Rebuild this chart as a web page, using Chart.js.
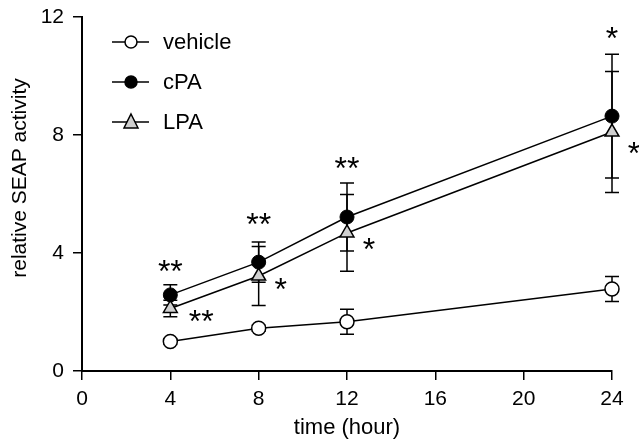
<!DOCTYPE html>
<html>
<head>
<meta charset="utf-8">
<script src="https://cdn.jsdelivr.net/npm/chart.js@4.4.1/dist/chart.umd.min.js"></script>
<style>
  body { margin: 0; background: #fff; }
</style>
</head>
<body>
<canvas id="chart" width="639" height="441"></canvas>
<script>
const hours = [4, 8, 12, 24];
const vehicle = [1.0, 1.45, 1.67, 2.78];
const vehicleErr = [0.1, 0.1, 0.42, 0.42];
const cpa = [2.58, 3.69, 5.22, 8.64];
const cpaErr = [0.34, 0.68, 1.15, 2.1];
const lpa = [2.12, 3.22, 4.68, 8.1];
const lpaErr = [0.28, 1.0, 1.3, 2.05];
const xTicks = [0, 4, 8, 12, 16, 20, 24];
const yTicks = [0, 4, 8, 12];

// significance marks: [x, y, text]
const starX = [4, 5.4, 8, 9.0, 12, 13.0, 24, 25.0];
const starY = [3.6, 1.9, 5.2, 3.0, 7.1, 4.35, 11.5, 7.6];
const starText = ['**', '**', '**', '*', '**', '*', '*', '*'];

const FONT = "Arial, 'Liberation Sans', sans-serif";

function toPoints(ys) {
  return hours.map((h, i) => ({ x: h, y: ys[i] }));
}

const errorBars = {
  id: 'errorBars',
  beforeDatasetsDraw(chart) {
    const ctx = chart.ctx;
    const xs = chart.scales.x, ys = chart.scales.y;
    const sets = [[vehicle, vehicleErr], [cpa, cpaErr], [lpa, lpaErr]];
    ctx.save();
    ctx.strokeStyle = '#000';
    ctx.lineWidth = 1.5;
    sets.forEach(([vals, errs]) => {
      vals.forEach((v, i) => {
        const px = xs.getPixelForValue(hours[i]);
        const top = ys.getPixelForValue(v + errs[i]);
        const bot = ys.getPixelForValue(v - errs[i]);
        ctx.beginPath();
        ctx.moveTo(px, top); ctx.lineTo(px, bot);
        ctx.moveTo(px - 7, top); ctx.lineTo(px + 7, top);
        ctx.moveTo(px - 7, bot); ctx.lineTo(px + 7, bot);
        ctx.stroke();
      });
    });
    ctx.restore();
  }
};

const extras = {
  id: 'extras',
  afterDraw(chart) {
    const ctx = chart.ctx;
    const xs = chart.scales.x, ys = chart.scales.y;
    ctx.save();
    ctx.fillStyle = '#000';
    ctx.textAlign = 'center';
    ctx.textBaseline = 'alphabetic';
    ctx.font = '32px ' + FONT;
    starText.forEach((t, i) => {
      ctx.fillText(t, xs.getPixelForValue(starX[i]), ys.getPixelForValue(starY[i]) + 17);
    });

    // y axis title
    ctx.save();
    ctx.translate(20, 178);
    ctx.rotate(-Math.PI / 2);
    ctx.textBaseline = 'middle';
    ctx.font = '21px ' + FONT;
    ctx.fillText('relative SEAP activity', 0, 0);
    ctx.restore();

    // legend
    const items = [
      { label: 'vehicle', style: 'circle', fill: '#fff', r: 6 },
      { label: 'cPA', style: 'circle', fill: '#000', r: 6 },
      { label: 'LPA', style: 'triangle', fill: '#d0d0d0', r: 7 }
    ];
    ctx.textAlign = 'left';
    ctx.textBaseline = 'middle';
    ctx.font = '22px ' + FONT;
    items.forEach((it, i) => {
      const y = 42 + i * 40;
      ctx.strokeStyle = '#000';
      ctx.lineWidth = 1.5;
      ctx.beginPath();
      ctx.moveTo(112, y); ctx.lineTo(149, y);
      ctx.stroke();
      ctx.fillStyle = it.fill;
      ctx.beginPath();
      if (it.style === 'circle') {
        ctx.arc(131, y, it.r, 0, Math.PI * 2);
      } else {
        ctx.moveTo(131, y - 8);
        ctx.lineTo(138, y + 6);
        ctx.lineTo(124, y + 6);
        ctx.closePath();
      }
      ctx.fill();
      ctx.stroke();
      ctx.fillStyle = '#000';
      ctx.fillText(it.label, 163, y + 1);
    });
    ctx.restore();
  }
};

new Chart(document.getElementById('chart'), {
  type: 'line',
  data: {
    datasets: [
      {
        label: 'vehicle',
        data: toPoints(vehicle),
        borderColor: '#000',
        borderWidth: 1.5,
        pointStyle: 'circle',
        pointRadius: 7,
        pointBackgroundColor: '#fff',
        pointBorderColor: '#000',
        pointBorderWidth: 1.5
      },
      {
        label: 'cPA',
        data: toPoints(cpa),
        borderColor: '#000',
        borderWidth: 1.5,
        pointStyle: 'circle',
        pointRadius: 7,
        pointBackgroundColor: '#000',
        pointBorderColor: '#000',
        pointBorderWidth: 1
      },
      {
        label: 'LPA',
        data: toPoints(lpa),
        borderColor: '#000',
        borderWidth: 1.5,
        pointStyle: 'triangle',
        pointRadius: 8,
        pointBackgroundColor: '#d0d0d0',
        pointBorderColor: '#000',
        pointBorderWidth: 1.5
      }
    ]
  },
  options: {
    responsive: false,
    animation: false,
    clip: false,
    layout: { padding: { top: 17, right: 27, left: 0, bottom: 0 } },
    plugins: {
      legend: { display: false },
      tooltip: { enabled: false }
    },
    scales: {
      x: {
        type: 'linear',
        min: 0,
        max: 24,
        afterFit(axis) { axis.height = 70; axis.paddingLeft = 0; axis.paddingRight = 0; },
        afterBuildTicks(axis) { axis.ticks = xTicks.map(v => ({ value: v })); },
        grid: { drawOnChartArea: false, drawTicks: true, tickLength: 9, color: '#000', lineWidth: 1.5 },
        border: { display: true, color: '#000', width: 2 },
        ticks: { color: '#000', font: { family: FONT, size: 21 }, padding: 7 },
        title: { display: true, text: 'time (hour)', color: '#000', font: { family: FONT, size: 22 }, padding: { top: 0, bottom: 0 } }
      },
      y: {
        min: 0,
        max: 12,
        afterFit(axis) { axis.width = 82; axis.paddingTop = 0; axis.paddingBottom = 0; },
        afterBuildTicks(axis) { axis.ticks = yTicks.map(v => ({ value: v })); },
        grid: { drawOnChartArea: false, drawTicks: true, tickLength: 9, color: '#000', lineWidth: 1.5 },
        border: { display: true, color: '#000', width: 2 },
        ticks: { color: '#000', font: { family: FONT, size: 21 }, padding: 9 },
        title: { display: false }
      }
    }
  },
  plugins: [errorBars, extras]
});
</script>
</body>
</html>
